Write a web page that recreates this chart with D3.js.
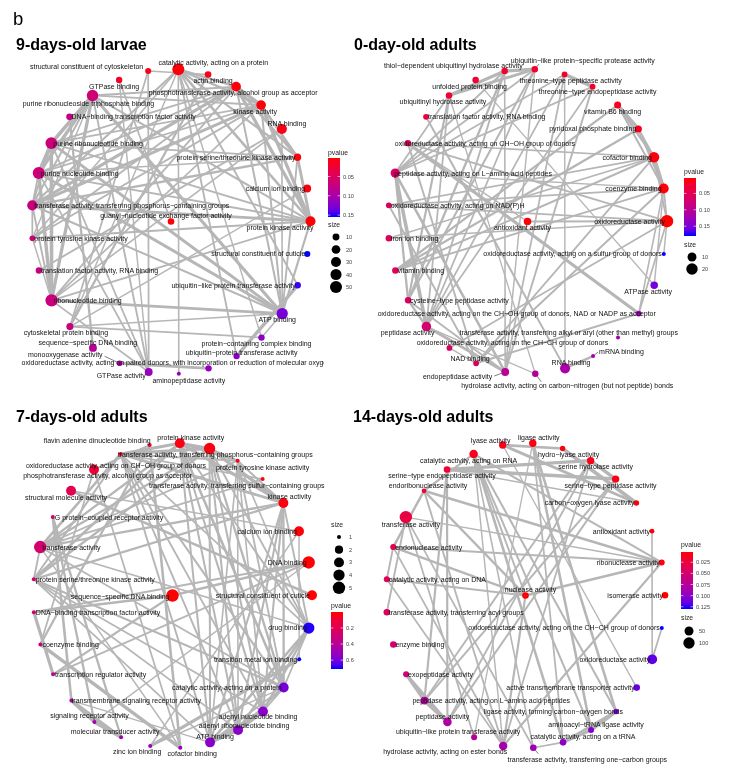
<!DOCTYPE html>
<html><head><meta charset="utf-8">
<script src="https://cdn.jsdelivr.net/npm/d3@7"></script>
<style>body{margin:0;background:#fff} svg{will-change:transform} text{font-family:"Liberation Sans",Arial,Helvetica,sans-serif}</style>
</head><body><svg id="c" width="732" height="770"></svg>
<script>
// ---------- DATA ----------
// index 0 = centre node, 1..29 = nodes around the circle (counter-clockwise from the top)
const larvaeTerms = ["guanyl-nucleotide exchange factor activity","catalytic activity, acting on a protein","structural constituent of cytoskeleton","GTPase binding","purine ribonucleoside triphosphate binding","DNA-binding transcription factor activity","purine ribonucleotide binding","purine nucleotide binding","transferase activity, transferring phosphorus-containing groups","protein tyrosine kinase activity","translation factor activity, RNA binding","ribonucleotide binding","cytoskeletal protein binding","sequence-specific DNA binding","monooxygenase activity","GTPase activity","aminopeptidase activity","oxidoreductase activity, acting on paired donors, with incorporation or reduction of molecular oxygen","ubiquitin-protein transferase activity","protein-containing complex binding","ATP binding","ubiquitin-like protein transferase activity","structural constituent of cuticle","protein kinase activity","calcium ion binding","protein serine/threonine kinase activity","RNA binding","kinase activity","phosphotransferase activity, alcohol group as acceptor","actin binding"];
const larvaePvalue = [0.002,0.004,0.010,0.014,0.066,0.078,0.068,0.068,0.070,0.066,0.070,0.070,0.070,0.090,0.100,0.113,0.115,0.115,0.120,0.120,0.130,0.150,0.155,0.003,0.006,0.004,0.008,0.004,0.005,0.010];
const larvaeCount = [9,50,7,8,44,9,48,50,32,6,8,55,11,15,6,15,4,8,8,8,42,8,7,30,15,12,30,27,27,9];
const larvaeEdges = [[4,6,1],[4,7,0.9],[6,7,1],[6,11,0.95],[7,11,0.9],[4,11,0.85],[4,20,0.8],[6,20,0.75],[7,20,0.75],[11,20,0.7],
 [15,4,0.35],[15,6,0.3],[15,7,0.3],[15,11,0.3],[15,2,0.3],[15,3,0.2],
 [8,28,0.8],[8,27,0.75],[8,23,0.7],[8,25,0.5],[8,9,0.3],[28,27,0.9],[28,23,0.85],[28,25,0.6],[28,9,0.35],[27,23,0.85],[27,25,0.6],[27,9,0.35],[23,25,0.7],[23,9,0.4],
 [1,23,0.6],[1,25,0.45],[1,27,0.5],[1,28,0.5],[1,8,0.45],[1,9,0.25],[1,16,0.25],[1,18,0.35],[1,21,0.35],[18,21,0.9],[1,19,0.2],
 [4,23,0.4],[6,23,0.35],[7,23,0.35],[11,23,0.35],[4,28,0.4],[6,28,0.35],[7,28,0.35],[11,28,0.35],[4,27,0.35],[6,27,0.3],[7,27,0.3],[11,27,0.3],
 [4,8,0.4],[6,8,0.35],[7,8,0.35],[11,8,0.35],[20,8,0.4],[20,23,0.45],[20,27,0.4],[20,28,0.4],[20,25,0.35],[6,25,0.25],[7,25,0.25],[4,9,0.2],[11,9,0.2],
 [0,3,0.3],[5,13,0.5],[14,17,0.7],[10,26,0.35],[12,29,0.5],[12,2,0.3],[12,19,0.3],[2,29,0.25],[20,26,0.25],[11,26,0.25],[12,24,0.2],[20,19,0.2],[20,12,0.2],[1,12,0.2]];
const larvaeSizeBreaks = [10,20,30,40,50];
const larvaePTicks = [0.05,0.10,0.15];
const larvaePTickLabels = ["0.05","0.10","0.15"];

const day0Terms = ["antioxidant activity","ubiquitin-like protein-specific protease activity","thiol-dependent ubiquitinyl hydrolase activity","unfolded protein binding","ubiquitinyl hydrolase activity","translation factor activity, RNA binding","oxidoreductase activity, acting on CH-OH group of donors","peptidase activity, acting on L-amino acid peptides","oxidoreductase activity, acting on NAD(P)H","iron ion binding","vitamin binding","cysteine-type peptidase activity","peptidase activity","oxidoreductase activity, acting on the CH-CH group of donors","NAD binding","endopeptidase activity","hydrolase activity, acting on carbon-nitrogen (but not peptide) bonds","RNA binding","mRNA binding","transferase activity, transferring alkyl or aryl (other than methyl) groups","oxidoreductase activity, acting on the CH-OH group of donors, NAD or NADP as acceptor","ATPase activity","oxidoreductase activity, acting on a sulfur group of donors","oxidoreductase activity","coenzyme binding","cofactor binding","pyridoxal phosphate binding","vitamin B6 binding","threonine-type endopeptidase activity","threonine-type peptidase activity"];
const day0Pvalue = [0.004,0.022,0.022,0.025,0.025,0.035,0.055,0.065,0.060,0.055,0.055,0.060,0.070,0.065,0.062,0.100,0.105,0.115,0.120,0.120,0.125,0.155,0.180,0.003,0.005,0.008,0.012,0.015,0.020,0.020];
const day0Count = [6,4,4,4,4,3,4,11,3,4,4,4,12,3,3,7,4,14,2,2,3,6,2,25,14,16,5,5,3,3];
const day0Edges = [[1,2,0.9],[1,4,0.7],[2,4,0.8],[1,11,0.4],[2,11,0.5],[4,11,0.45],[1,7,0.3],[2,7,0.35],[4,7,0.3],[1,12,0.3],[2,12,0.35],[4,12,0.3],[1,15,0.2],[2,15,0.25],
 [11,7,0.5],[11,12,0.5],[11,15,0.35],[7,12,0.95],[7,15,0.6],[12,15,0.7],[28,29,0.95],[28,15,0.35],[28,12,0.3],[28,7,0.3],[29,12,0.3],[29,7,0.3],[29,15,0.3],[16,12,0.15],[16,4,0.15],
 [23,6,0.35],[23,8,0.3],[23,13,0.3],[23,20,0.3],[23,22,0.2],[23,0,0.35],[6,20,0.8],[20,14,0.4],[6,14,0.35],[8,14,0.35],[24,14,0.4],[25,14,0.35],[14,13,0.2],
 [25,24,0.95],[25,26,0.5],[25,27,0.5],[26,27,0.9],[24,26,0.4],[24,27,0.4],[10,27,0.5],[10,26,0.5],[10,25,0.4],[10,24,0.35],[9,25,0.25],[6,25,0.25],[23,24,0.3],[23,25,0.3],[24,20,0.25],[8,24,0.3],[8,25,0.3],
 [5,17,0.4],[17,18,0.6],[17,29,0.2],[21,24,0.2],[0,6,0.2],[3,21,0.15],[9,23,0.2],[7,24,0.15]];
const day0SizeBreaks = [10,20];
const day0PTicks = [0.05,0.10,0.15];
const day0PTickLabels = ["0.05","0.10","0.15"];

const day7Terms = ["sequence-specific DNA binding","protein kinase activity","flavin adenine dinucleotide binding","transferase activity, transferring phosphorus-containing groups","oxidoreductase activity, acting on CH-OH group of donors","structural molecule activity","G protein-coupled receptor activity","transferase activity","protein serine/threonine kinase activity","DNA-binding transcription factor activity","coenzyme binding","transcription regulator activity","transmembrane signaling receptor activity","signaling receptor activity","molecular transducer activity","zinc ion binding","cofactor binding","ATP binding","adenyl ribonucleotide binding","adenyl nucleotide binding","catalytic activity, acting on a protein","transition metal ion binding","drug binding","structural constituent of cuticle","DNA binding","calcium ion binding","kinase activity","transferase activity, transferring sulfur-containing groups","protein tyrosine kinase activity","phosphotransferase activity, alcohol group as acceptor"];
const day7Pvalue = [0.002,0.030,0.080,0.040,0.100,0.180,0.240,0.270,0.280,0.300,0.320,0.380,0.450,0.470,0.470,0.500,0.500,0.550,0.550,0.560,0.600,0.710,0.700,0.005,0.005,0.010,0.020,0.020,0.020,0.020];
const day7Count = [5,3,1,1,3,3,1,5,1,1,1,1,1,1,1,1,1,3,3,3,3,1,4,3,5,3,3,1,1,4];
const day7Edges = [[1,3,0.8],[1,8,0.6],[1,26,0.8],[1,28,0.5],[1,29,0.8],[1,7,0.5],[1,20,0.6],[3,8,0.4],[3,26,0.7],[3,28,0.4],[3,29,0.8],[3,7,0.6],[3,20,0.4],[26,29,0.9],[26,8,0.5],[26,28,0.4],[26,7,0.5],[26,20,0.5],[29,8,0.5],[29,28,0.4],[29,7,0.5],[29,20,0.5],[8,7,0.35],[8,20,0.45],[28,7,0.3],[28,20,0.35],[7,20,0.3],[7,27,0.35],[3,27,0.3],
 [17,18,0.95],[17,19,0.9],[18,19,0.95],[17,22,0.6],[18,22,0.6],[19,22,0.55],[17,1,0.4],[18,1,0.4],[19,1,0.4],[17,26,0.4],[18,26,0.4],[19,26,0.4],[17,29,0.4],[18,29,0.4],[19,29,0.4],[17,3,0.35],[18,3,0.35],[19,3,0.35],[17,8,0.3],[18,8,0.3],[19,8,0.3],[17,20,0.3],[18,20,0.3],[19,20,0.3],[22,1,0.35],[22,26,0.35],[22,29,0.35],[22,3,0.3],[22,20,0.3],[22,7,0.25],[17,28,0.25],[18,28,0.25],[19,28,0.25],[22,28,0.25],
 [6,12,0.6],[6,13,0.5],[6,14,0.5],[12,13,0.9],[12,14,0.85],[13,14,0.95],
 [0,9,0.5],[0,11,0.45],[0,24,0.6],[9,11,0.8],[9,24,0.4],[11,24,0.35],
 [2,10,0.5],[2,16,0.6],[10,16,0.9],[4,2,0.35],[4,10,0.3],[4,16,0.3],
 [15,21,0.8],[25,15,0.2],[25,21,0.2],[5,23,0.6],[7,16,0.2],[20,15,0.2],[5,25,0.2],[12,17,0.15],[13,24,0.15]];
const day7SizeBreaks = [1,2,3,4,5];
const day7PTicks = [0.2,0.4,0.6];
const day7PTickLabels = ["0.2","0.4","0.6"];

const day14Terms = ["nuclease activity","ligase activity","lyase activity","catalytic activity, acting on RNA","serine-type endopeptidase activity","endoribonuclease activity","transferase activity","endonuclease activity","catalytic activity, acting on DNA","transferase activity, transferring acyl groups","enzyme binding","exopeptidase activity","peptidase activity, acting on L-amino acid peptides","peptidase activity","ubiquitin-like protein transferase activity","hydrolase activity, acting on ester bonds","transferase activity, transferring one-carbon groups","catalytic activity, acting on a tRNA","aminoacyl-tRNA ligase activity","ligase activity, forming carbon-oxygen bonds","active transmembrane transporter activity","oxidoreductase activity","oxidoreductase activity, acting on the CH-CH group of donors","isomerase activity","ribonuclease activity","antioxidant activity","carbon-oxygen lyase activity","serine-type peptidase activity","serine hydrolase activity","hydro-lyase activity"];
const day14Pvalue = [0.003,0.006,0.008,0.010,0.018,0.022,0.028,0.032,0.036,0.042,0.050,0.056,0.078,0.080,0.075,0.085,0.090,0.100,0.105,0.108,0.115,0.118,0.130,0.002,0.005,0.005,0.006,0.008,0.008,0.005];
const day14Count = [18,26,26,42,18,7,130,13,13,18,18,13,32,42,13,40,18,18,13,10,18,65,6,18,13,7,10,26,26,9];
const day14Edges = [[2,29,0.6],[2,26,0.7],[29,26,0.95],[1,18,0.6],[1,19,0.6],[18,19,0.95],[17,18,0.7],[17,19,0.7],[3,17,0.6],[3,18,0.4],[3,19,0.4],[1,17,0.3],[3,24,0.4],[3,5,0.4],[3,0,0.35],
 [0,5,0.5],[0,7,0.55],[0,24,0.6],[0,8,0.35],[0,15,0.45],[5,7,0.55],[5,24,0.6],[7,24,0.4],[7,8,0.35],[24,15,0.45],[5,15,0.35],[7,15,0.3],[8,15,0.3],
 [4,27,0.95],[4,28,0.8],[27,28,0.9],[4,12,0.45],[4,13,0.45],[27,12,0.4],[27,13,0.4],[28,12,0.35],[28,13,0.35],[12,13,0.95],[11,12,0.8],[11,13,0.75],
 [6,9,0.35],[6,14,0.3],[6,16,0.3],[6,24,0.2],[3,16,0.25],[16,17,0.3],[21,22,0.3],[21,25,0.25],[28,15,0.3],[3,15,0.2],[1,14,0.15],[2,20,0.15],[4,26,0.2]];
const day14SizeBreaks = [50,100];
const day14PTicks = [0.025,0.050,0.075,0.100,0.125];
const day14PTickLabels = ["0.025","0.050","0.075","0.100","0.125"];

// ---------- LAYOUT / STYLE ----------
const RX = 139.5, RY = 152.5, START = 87 * Math.PI / 180, RMIN = 2, RMAX = 6.2;
const panels = [
 {title:"9-days-old larvae", tx:16, ty:50, cx:171, cy:221.5, terms:larvaeTerms, pvalue:larvaePvalue, count:larvaeCount, edges:larvaeEdges,
  sizeBreaks:larvaeSizeBreaks, pTicks:larvaePTicks, pLabels:larvaePTickLabels, labelClip:324,
  leg:{x:328, pTitle:155, barTop:158, barH:59, sTitle:227, sY:237, sStep:12.5},
  nudge:{
   "structural constituent of cytoskeleton":["end",-5,-5],
   "catalytic activity, acting on a protein":["middle",35,-7],
   "actin binding":["middle",5,6],
   "GTPase binding":["middle",-5,7],
   "phosphotransferase activity, alcohol group as acceptor":["middle",-3,6],
   "purine ribonucleoside triphosphate binding":["middle",-4,8],
   "kinase activity":["middle",-6,6],
   "RNA binding":["middle",5,-5],
   "guanyl-nucleotide exchange factor activity":["middle",-5,-6],
   "protein kinase activity":["end",3,6],
   "ATP binding":["middle",-5,6],
   "cytoskeletal protein binding":["middle",-4,6],
   "sequence-specific DNA binding":["middle",-5,-5],
   "protein-containing complex binding":["middle",-5,6],
   "ubiquitin-protein transferase activity":["middle",5,-3.5],
   "monooxygenase activity":["end",-17,-9,-15,-7],
   "oxidoreductase activity, acting on paired donors, with incorporation or reduction of molecular oxygen":["start",-187,-6],
   "GTPase activity":["end",-3,4],
   "aminopeptidase activity":["middle",10,7]}},
 {title:"0-day-old adults", tx:354, ty:50, cx:527.5, cy:221.5, terms:day0Terms, pvalue:day0Pvalue, count:day0Count, edges:day0Edges,
  sizeBreaks:day0SizeBreaks, pTicks:day0PTicks, pLabels:day0PTickLabels, labelClip:null,
  leg:{x:684, pTitle:174, barTop:178, barH:58, sTitle:247, sY:257, sStep:12},
  nudge:{
   "ubiquitin-like protein-specific protease activity":["middle",48,-9,4,-5],
   "thiol-dependent ubiquitinyl hydrolase activity":["end",18,-6],
   "threonine-type peptidase activity":["middle",6,6],
   "unfolded protein binding":["middle",-6,7],
   "threonine-type endopeptidase activity":["middle",5,5],
   "ubiquitinyl hydrolase activity":["middle",-6,6],
   "vitamin B6 binding":["middle",-5,6],
   "oxidoreductase activity, acting on CH-OH group of donors":["start",-13,0],
   "peptidase activity, acting on L-amino acid peptides":["start",-1,0],
   "antioxidant activity":["middle",-5,6],
   "ATPase activity":["middle",-6,6],
   "oxidoreductase activity, acting on the CH-OH group of donors, NAD or NADP as acceptor":["start",-261,0],
   "peptidase activity":["end",8,6],
   "transferase activity, transferring alkyl or aryl (other than methyl) groups":["end",60,-5],
   "oxidoreductase activity, acting on the CH-CH group of donors":["middle",63,-5],
   "mRNA binding":["start",6,-5,5,-4],
   "NAD binding":["middle",-6,-5],
   "RNA binding":["middle",6,-6],
   "endopeptidase activity":["end",-13,5,-11,4],
   "hydrolase activity, acting on carbon-nitrogen (but not peptide) bonds":["middle",32,12,6,8]}},
 {title:"7-days-old adults", tx:16, ty:421.5, cx:172.5, cy:595.5, terms:day7Terms, pvalue:day7Pvalue, count:day7Count, edges:day7Edges,
  sizeBreaks:day7SizeBreaks, pTicks:day7PTicks, pLabels:day7PTickLabels, labelClip:null,
  leg:{x:331, pTitle:608, barTop:612, barH:57, sTitle:527, sY:537, sStep:12.7},
  nudge:{
   "flavin adenine dinucleotide binding":["end",1,-5],
   "protein kinase activity":["middle",11,-6],
   "transferase activity, transferring phosphorus-containing groups":["start",-3,1],
   "oxidoreductase activity, acting on CH-OH group of donors":["middle",22,-4],
   "protein tyrosine kinase activity":["middle",25,7],
   "phosphotransferase activity, alcohol group as acceptor":["middle",-102,27],
   "transferase activity, transferring sulfur-containing groups":["end",62,6],
   "structural molecule activity":["middle",-5,7],
   "kinase activity":["middle",6,-6],
   "sequence-specific DNA binding":["end",-3,1],
   "signaling receptor activity":["middle",-5,-6],
   "adenyl nucleotide binding":["middle",-5,5],
   "adenyl ribonucleotide binding":["middle",6,-4.5],
   "molecular transducer activity":["middle",-6,-6],
   "ATP binding":["middle",5,-6],
   "zinc ion binding":["middle",-13,6],
   "cofactor binding":["middle",12,6],
   "transmembrane signaling receptor activity":["start",0,0]}},
 {title:"14-days-old adults", tx:353, ty:421.5, cx:525.5, cy:595.5, terms:day14Terms, pvalue:day14Pvalue, count:day14Count, edges:day14Edges,
  sizeBreaks:day14SizeBreaks, pTicks:day14PTicks, pLabels:day14PTickLabels, labelClip:null,
  leg:{x:681, pTitle:547, barTop:552, barH:57, sTitle:620, sY:631, sStep:12},
  nudge:{
   "lyase activity":["middle",-12,-5],
   "ligase activity":["middle",6,-6],
   "hydro-lyase activity":["middle",6,6],
   "catalytic activity, acting on RNA":["middle",-5,7],
   "serine hydrolase activity":["middle",5,6],
   "serine-type endopeptidase activity":["middle",-5,6],
   "endoribonuclease activity":["middle",4,-5],
   "serine-type peptidase activity":["middle",-5,6],
   "transferase activity":["middle",5,7],
   "nuclease activity":["middle",5,-6],
   "peptidase activity, acting on L-amino acid peptides":["start",-12,0],
   "ligase activity, forming carbon-oxygen bonds":["end",7,0],
   "peptidase activity":["middle",-5,-5],
   "aminoacyl-tRNA ligase activity":["middle",5,-6],
   "ubiquitin-like protein transferase activity":["middle",-16,-6],
   "catalytic activity, acting on a tRNA":["middle",20,-6],
   "hydrolase activity, acting on ester bonds":["end",4,6],
   "transferase activity, transferring one-carbon groups":["middle",54,12,5,6]}}
];

const LABEL_FS = 7.0, EDGE_COL = "#b6b6b6";
const svg = d3.select("#c");
const defs = svg.append("defs");
defs.append("clipPath").attr("id","clipAll").append("rect").attr("x",0).attr("y",0).attr("width",710.5).attr("height",770);
svg.append("rect").attr("width",732).attr("height",770).attr("fill","#fff");
const root = svg.append("g").attr("clip-path","url(#clipAll)");
root.append("text").attr("x",13).attr("y",25).attr("font-size",18.5).attr("fill","#000").text("b");
const disp = s => s.replace(/-/g,"\u2212");

panels.forEach((p, pi) => {
  const n = p.terms.length;
  const xs = d3.scaleLinear().domain([-1,1]).range([p.cx - RX, p.cx + RX]);
  const ys = d3.scaleLinear().domain([-1,1]).range([p.cy + RY, p.cy - RY]);
  const step = 2 * Math.PI / (n - 1);
  const nodes = p.terms.map((t, i) => {
    let ux = 0, uy = 0;
    if (i > 0) { const th = START + (i - 1) * step; ux = Math.cos(th); uy = Math.sin(th); }
    return {name:t, pv:p.pvalue[i], cnt:p.count[i], x:xs(ux), y:ys(uy), ux, uy, center:i === 0};
  });
  const pExt = d3.extent(p.pvalue);
  const color = d3.scaleSequential(d3.interpolateLab("red","blue")).domain(pExt);
  const tS = d3.scaleLinear().domain(d3.extent(p.count)).range([0,1]);
  const rS = d3.scaleLinear().domain([0,1]).range([RMIN, RMAX]);
  const radius = v => rS(Math.sqrt(Math.max(0, tS(v))));
  const wS = d3.scaleLinear().domain([0,1]).range([0.9, 3.7]);

  const g = root.append("g");
  g.append("text").attr("x",p.tx).attr("y",p.ty).attr("font-size",16).attr("font-weight","bold").attr("fill","#000").text(p.title);

  g.append("g").selectAll("line").data(p.edges).join("line")
    .attr("x1", d => nodes[d[0]].x).attr("y1", d => nodes[d[0]].y)
    .attr("x2", d => nodes[d[1]].x).attr("y2", d => nodes[d[1]].y)
    .attr("stroke", EDGE_COL).attr("stroke-width", d => wS(d[2]));

  g.append("g").selectAll("circle").data(nodes).join("circle")
    .attr("cx", d => d.x).attr("cy", d => d.y).attr("r", d => radius(d.cnt))
    .attr("fill", d => color(d.pv));

  let lg = g.append("g");
  if (p.labelClip) {
    defs.append("clipPath").attr("id","lc"+pi).append("rect").attr("x",0).attr("y",0).attr("width",p.labelClip).attr("height",770);
    lg.attr("clip-path","url(#lc"+pi+")");
  }
  nodes.forEach(d => {
    let spec = p.nudge[d.name];
    if (!spec) {
      if (d.center) spec = ["middle",0,-6];
      else if (d.ux < -0.3) spec = ["start",2,0];
      else if (d.ux > 0.3) spec = ["end",-2,0];
      else spec = ["middle",0, d.uy > 0 ? -7 : 7];
    }
    if (spec.length > 3) {
      const r = radius(d.cnt);
      const len = Math.hypot(spec[3], spec[4]);
      lg.append("line").attr("x1", d.x + spec[3]/len*r).attr("y1", d.y + spec[4]/len*r)
        .attr("x2", d.x + spec[3]).attr("y2", d.y + spec[4]).attr("stroke","#000").attr("stroke-width",0.5);
    }
    lg.append("text").attr("x", d.x + spec[1]).attr("y", d.y + spec[2] + LABEL_FS*0.35)
      .attr("text-anchor", spec[0]).attr("font-size", LABEL_FS).attr("fill","#111").text(disp(d.name));
  });

  // legends
  const L = p.leg, bw = 12;
  const lgd = g.append("g");
  lgd.append("text").attr("x",L.x).attr("y",L.pTitle).attr("font-size",6.8).attr("fill","#222").text("pvalue");
  const gid = "grad"+pi;
  const grad = defs.append("linearGradient").attr("id",gid).attr("x1",0).attr("y1",0).attr("x2",0).attr("y2",1);
  d3.range(0,1.0001,0.1).forEach(k => grad.append("stop").attr("offset",k).attr("stop-color", color(pExt[0] + k*(pExt[1]-pExt[0]))));
  lgd.append("rect").attr("x",L.x).attr("y",L.barTop).attr("width",bw).attr("height",L.barH).attr("fill","url(#"+gid+")");
  const py = d3.scaleLinear().domain(pExt).range([L.barTop, L.barTop + L.barH]);
  p.pTicks.forEach((v,k) => {
    const y = py(v);
    lgd.append("line").attr("x1",L.x).attr("x2",L.x+2.4).attr("y1",y).attr("y2",y).attr("stroke","#fff").attr("stroke-width",0.6);
    lgd.append("line").attr("x1",L.x+bw-2.4).attr("x2",L.x+bw).attr("y1",y).attr("y2",y).attr("stroke","#fff").attr("stroke-width",0.6);
    lgd.append("text").attr("x",L.x+bw+3).attr("y",y+2).attr("font-size",5.6).attr("fill","#444").text(p.pLabels[k]);
  });
  lgd.append("text").attr("x",L.x).attr("y",L.sTitle).attr("font-size",6.8).attr("fill","#222").text("size");
  p.sizeBreaks.forEach((v,k) => {
    const y = L.sY + k*L.sStep;
    lgd.append("circle").attr("cx",L.x+8).attr("cy",y).attr("r",radius(v)).attr("fill","#000");
    lgd.append("text").attr("x",L.x+18).attr("y",y+2).attr("font-size",5.6).attr("fill","#444").text(v);
  });
});
</script></body></html>
